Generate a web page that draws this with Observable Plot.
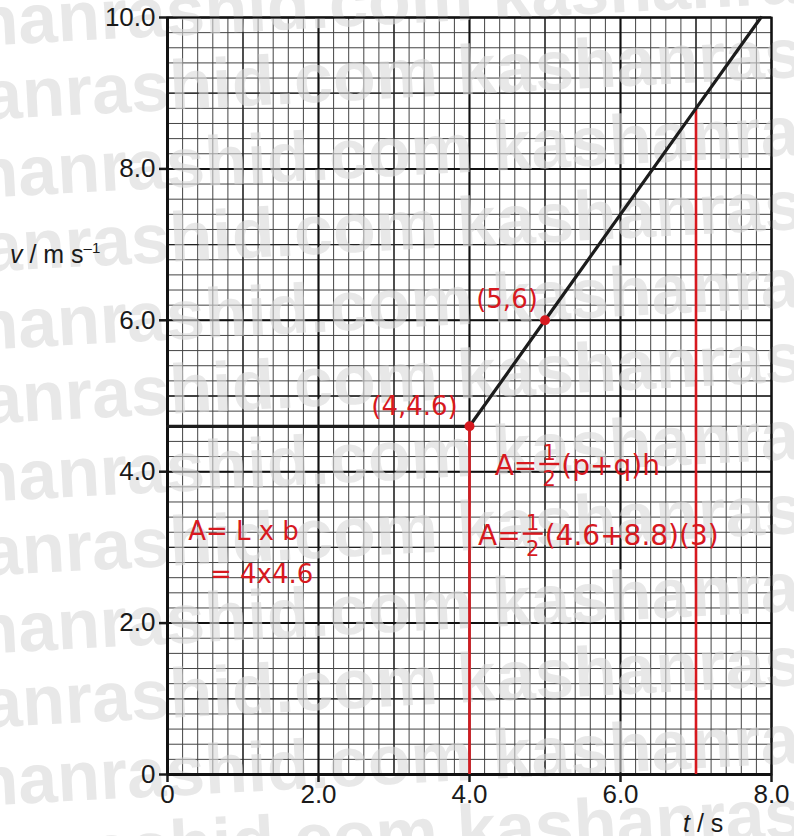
<!DOCTYPE html>
<html>
<head>
<meta charset="utf-8">
<script src="https://cdn.jsdelivr.net/npm/d3@7"></script>
<script src="https://cdn.jsdelivr.net/npm/@observablehq/plot@0.6"></script>
<style>
  html, body { margin: 0; padding: 0; background: #fff; }
  #chart { width: 794px; height: 836px; overflow: hidden; }
</style>
</head>
<body>
<div id="chart"></div>
<script>
// Velocity–time graph: constant speed, then uniform acceleration.
const time     = [0, 4, 5, 7, 7.86];
const velocity = [4.6, 4.6, 6.0, 8.8, 10.0];

const markedTime     = [4, 5];
const markedVelocity = [4.6, 6.0];
const markedLabels   = ["(4,4.6)", "(5,6)"];

// Vertical edges bounding the areas under the graph
const edgeTime     = [4, 7];
const edgeVelocity = [4.6, 8.8];

// Axis ticks and their labels
const xTicks      = [0, 2, 4, 6, 8];
const xTickLabels = ["0", "2.0", "4.0", "6.0", "8.0"];
const yTicks      = [0, 2, 4, 6, 8, 10];
const yTickLabels = ["0", "2.0", "4.0", "6.0", "8.0", "10.0"];

const RED = "#d7191f";
const INK = "#1c1c1c";

const line   = time.map((t, i) => ({t, v: velocity[i]}));
const marked = markedTime.map((t, i) => ({t, v: markedVelocity[i], label: markedLabels[i]}));
const edges  = edgeTime.map((t, i) => ({t, v: edgeVelocity[i]}));

// graph-paper rulings: fine every 0.2, medium every 1, heavy every 2
const fineX = d3.range(0, 40.5).map(i => +(i * 0.2).toFixed(1));
const fineY = d3.range(0, 50.5).map(i => +(i * 0.2).toFixed(1));
const unitX = d3.range(0, 9);
const unitY = d3.range(0, 11);

// label offsets (px) for the marked points
const labelOffsets = [[-55, -20], [-38, -21]];

const plot = Plot.plot({
  width: 794,
  height: 836,
  marginLeft: 167,
  marginRight: 23,
  marginTop: 17,
  marginBottom: 62,
  x: {domain: [0, 8]},
  y: {domain: [0, 10]},
  style: {fontFamily: "'Liberation Sans', Arial, sans-serif", background: "#fff", color: "#1a1a1a"},
  marks: [
    Plot.gridX(fineX, {stroke: "#444", strokeOpacity: 1, strokeWidth: 1}),
    Plot.gridY(fineY, {stroke: "#444", strokeOpacity: 1, strokeWidth: 1}),
    Plot.gridX(unitX, {stroke: "#222", strokeOpacity: 1, strokeWidth: 1.3}),
    Plot.gridY(unitY, {stroke: "#222", strokeOpacity: 1, strokeWidth: 1.3}),
    Plot.gridX(xTicks, {stroke: "#111", strokeOpacity: 1, strokeWidth: 2}),
    Plot.gridY(yTicks, {stroke: "#111", strokeOpacity: 1, strokeWidth: 2}),
    Plot.frame({stroke: "#111", strokeWidth: 2, ariaLabel: "paper-frame"}),
    Plot.axisX(xTicks, {
      tickFormat: d => xTickLabels[xTicks.indexOf(d)],
      tickSize: 8, tickPadding: 2, fontSize: 26, strokeWidth: 2.5, label: null
    }),
    Plot.axisY(yTicks, {
      tickFormat: d => yTickLabels[yTicks.indexOf(d)],
      tickSize: 8, tickPadding: 4, fontSize: 26, strokeWidth: 2.5, label: null
    }),
    Plot.ruleX([0], {stroke: "#111", strokeWidth: 3}),
    Plot.ruleY([0], {stroke: "#111", strokeWidth: 3}),
    Plot.ruleX(edges, {x: "t", y1: 0, y2: "v", stroke: RED, strokeWidth: 2.6}),
    Plot.line(line, {x: "t", y: "v", stroke: INK, strokeWidth: 3.2}),
    Plot.dot(marked, {x: "t", y: "v", r: 5, fill: RED}),
    ...marked.map((m, i) => Plot.text([m], {
      x: "t", y: "v", text: "label",
      dx: labelOffsets[i][0], dy: labelOffsets[i][1],
      fill: RED, fontSize: 26, fontFamily: "'DejaVu Sans', sans-serif"
    }))
  ]
});

document.getElementById("chart").appendChild(plot);

const svg = d3.select(plot);
const xs = plot.scale("x"), ys = plot.scale("y");
const sx = d3.scaleLinear(xs.domain, xs.range);
const sy = d3.scaleLinear(ys.domain, ys.range);

// faint site watermark laid over the ruled paper
const ns = "http://www.w3.org/2000/svg";
const wm = document.createElementNS(ns, "g");
const frameNode = plot.querySelector('[aria-label="paper-frame"]');
plot.insertBefore(wm, frameNode);
const wmG = d3.select(wm)
  .attr("fill", "#d8d8d8").attr("fill-opacity", 0.6)
  .attr("text-anchor", "start")
  .attr("font-family", "'Liberation Sans', Arial, sans-serif")
  .attr("font-weight", "bold").attr("font-size", 70)
  .style("pointer-events", "none");
const wmText = "kashanrashid.com kashanrashid.com kashanrashid.com";
d3.range(12).forEach(i => {
  const y = 52 + i * 76;
  const x0 = i % 2 === 0 ? -140 : -175;
  wmG.append("text")
    .attr("transform", `translate(${x0},${y}) rotate(-3)`)
    .text(wmText);
});

// axis titles
svg.append("text")
  .attr("x", 10).attr("y", 263).attr("text-anchor", "start")
  .attr("font-size", 25).attr("fill", "#1a1a1a")
  .call(t => {
    t.append("tspan").attr("font-style", "italic").text("v");
    t.append("tspan").text(" / m s");
    t.append("tspan").attr("font-size", 15).attr("dy", -10).text("–1");
  });
svg.append("text")
  .attr("x", 683).attr("y", 832).attr("text-anchor", "start")
  .attr("font-size", 25).attr("fill", "#1a1a1a")
  .call(t => {
    t.append("tspan").attr("font-style", "italic").text("t");
    t.append("tspan").text(" / s");
  });

// working written beside the graph
const notes = [
  {t: 4.34, v: 3.95, size: 28, parts: ["A=", ["1", "2"], "(p+q)h"]},
  {t: 4.12, v: 3.03, size: 28, parts: ["A=", ["1", "2"], "(4.6+8.8)(3)"]},
  {t: 0.28, v: 3.09, size: 26, parts: ["A= L x b"]},
  {t: 0.57, v: 2.52, size: 26, parts: ["= 4x4.6"]}
];
const noteG = svg.append("g")
  .attr("fill", RED)
  .attr("text-anchor", "start")
  .attr("font-family", "'DejaVu Sans', sans-serif");
notes.forEach(note => {
  let x = sx(note.t);
  const y = sy(note.v);
  note.parts.forEach(part => {
    if (Array.isArray(part)) {
      const w = 20;
      noteG.append("text").attr("x", x + w / 2).attr("y", y - 15)
        .attr("text-anchor", "middle").attr("font-size", 21).text(part[0]);
      noteG.append("line").attr("x1", x).attr("x2", x + w)
        .attr("y1", y - 11).attr("y2", y - 11)
        .attr("stroke", RED).attr("stroke-width", 2.4);
      noteG.append("text").attr("x", x + w / 2).attr("y", y + 11)
        .attr("text-anchor", "middle").attr("font-size", 21).text(part[1]);
      x += w + 2;
    } else {
      const el = noteG.append("text").attr("x", x).attr("y", y)
        .attr("font-size", note.size).text(part);
      x += el.node().getComputedTextLength() + 2;
    }
  });
});
</script>
</body>
</html>
